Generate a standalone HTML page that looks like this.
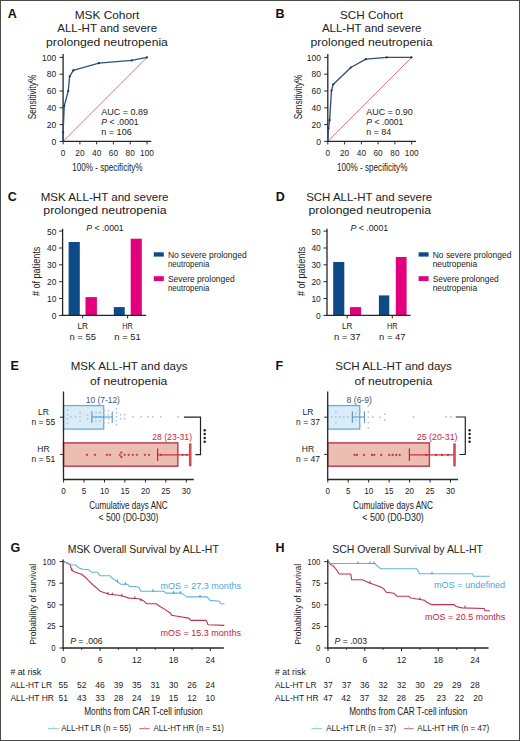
<!DOCTYPE html>
<html><head><meta charset="utf-8"><title>Figure</title>
<style>
html,body{margin:0;padding:0;background:#fff;}
body{width:520px;height:741px;overflow:hidden;}
svg{display:block;font-family:"Liberation Sans", sans-serif;}
</style></head>
<body>
<svg width="520" height="741" viewBox="0 0 520 741" fill="#222">
<rect x="0" y="0" width="520" height="741" fill="#fff"/>
<g>
<text x="7.7" y="18.1" font-size="12.5" fill="#111" font-weight="bold">A</text>
<text x="275.5" y="17.6" font-size="12.5" fill="#111" font-weight="bold">B</text>
<text x="74.7" y="18.5" font-size="11.5" textLength="64.6" lengthAdjust="spacingAndGlyphs">MSK Cohort</text>
<text x="57.2" y="32.3" font-size="11.5" textLength="99.9" lengthAdjust="spacingAndGlyphs">ALL-HT and severe</text>
<text x="46.1" y="46.0" font-size="11.5" textLength="121.8" lengthAdjust="spacingAndGlyphs">prolonged neutropenia</text>
<line x1="63.1" y1="141.4" x2="147.0" y2="57.4" stroke="#cf6676" stroke-width="0.9" />
<line x1="63.1" y1="54.0" x2="63.1" y2="142.0" stroke="#262626" stroke-width="1.3" />
<line x1="62.5" y1="141.4" x2="151.3" y2="141.4" stroke="#262626" stroke-width="1.3" />
<line x1="59.6" y1="141.4" x2="63.1" y2="141.4" stroke="#262626" stroke-width="1.0" />
<text x="56.3" y="144.6" font-size="9.5" text-anchor="end" textLength="4.8" lengthAdjust="spacingAndGlyphs">0</text>
<line x1="63.1" y1="141.4" x2="63.1" y2="144.4" stroke="#262626" stroke-width="1.0" />
<text x="63.1" y="155.8" font-size="9.5" text-anchor="middle" textLength="4.6" lengthAdjust="spacingAndGlyphs">0</text>
<line x1="59.6" y1="124.6" x2="63.1" y2="124.6" stroke="#262626" stroke-width="1.0" />
<text x="56.3" y="127.8" font-size="9.5" text-anchor="end" textLength="9.5" lengthAdjust="spacingAndGlyphs">20</text>
<line x1="79.9" y1="141.4" x2="79.9" y2="144.4" stroke="#262626" stroke-width="1.0" />
<text x="79.9" y="155.8" font-size="9.5" text-anchor="middle" textLength="9.2" lengthAdjust="spacingAndGlyphs">20</text>
<line x1="59.6" y1="107.8" x2="63.1" y2="107.8" stroke="#262626" stroke-width="1.0" />
<text x="56.3" y="111.0" font-size="9.5" text-anchor="end" textLength="9.5" lengthAdjust="spacingAndGlyphs">40</text>
<line x1="96.7" y1="141.4" x2="96.7" y2="144.4" stroke="#262626" stroke-width="1.0" />
<text x="96.7" y="155.8" font-size="9.5" text-anchor="middle" textLength="9.2" lengthAdjust="spacingAndGlyphs">40</text>
<line x1="59.6" y1="91.0" x2="63.1" y2="91.0" stroke="#262626" stroke-width="1.0" />
<text x="56.3" y="94.2" font-size="9.5" text-anchor="end" textLength="9.5" lengthAdjust="spacingAndGlyphs">60</text>
<line x1="113.4" y1="141.4" x2="113.4" y2="144.4" stroke="#262626" stroke-width="1.0" />
<text x="113.4" y="155.8" font-size="9.5" text-anchor="middle" textLength="9.2" lengthAdjust="spacingAndGlyphs">60</text>
<line x1="59.6" y1="74.2" x2="63.1" y2="74.2" stroke="#262626" stroke-width="1.0" />
<text x="56.3" y="77.4" font-size="9.5" text-anchor="end" textLength="9.5" lengthAdjust="spacingAndGlyphs">80</text>
<line x1="130.2" y1="141.4" x2="130.2" y2="144.4" stroke="#262626" stroke-width="1.0" />
<text x="130.2" y="155.8" font-size="9.5" text-anchor="middle" textLength="9.2" lengthAdjust="spacingAndGlyphs">80</text>
<line x1="59.6" y1="57.4" x2="63.1" y2="57.4" stroke="#262626" stroke-width="1.0" />
<text x="56.3" y="60.6" font-size="9.5" text-anchor="end" textLength="14.2" lengthAdjust="spacingAndGlyphs">100</text>
<line x1="147.0" y1="141.4" x2="147.0" y2="144.4" stroke="#262626" stroke-width="1.0" />
<text x="147.0" y="155.8" font-size="9.5" text-anchor="middle" textLength="13.8" lengthAdjust="spacingAndGlyphs">100</text>
<polyline points="63.1,141.2 63.1,132.5 64.2,106.1 68.2,91.1 69.7,76.3 73.3,70.4 98.9,63.2 131.7,60.4 146.9,57.4" fill="none" stroke="#2c5278" stroke-width="1.35" stroke-linejoin="round"/>
<circle cx="63.1" cy="132.5" r="1.1" fill="#1d3552"/>
<circle cx="64.2" cy="106.1" r="1.1" fill="#1d3552"/>
<circle cx="68.2" cy="91.1" r="1.1" fill="#1d3552"/>
<circle cx="69.7" cy="76.3" r="1.1" fill="#1d3552"/>
<circle cx="73.3" cy="70.4" r="1.1" fill="#1d3552"/>
<circle cx="98.9" cy="63.2" r="1.1" fill="#1d3552"/>
<circle cx="131.7" cy="60.4" r="1.1" fill="#1d3552"/>
<circle cx="146.9" cy="57.4" r="1.1" fill="#1d3552"/>
<text x="36.0" y="97.0" font-size="10.5" text-anchor="middle" textLength="44.7" lengthAdjust="spacingAndGlyphs" transform="rotate(-90 36.0 97.0)">Sensitivity%</text>
<text x="72.3" y="170.6" font-size="10.5" textLength="70.2" lengthAdjust="spacingAndGlyphs">100% - specificity%</text>
<text x="101.3" y="114.6" font-size="9" textLength="46.7" lengthAdjust="spacingAndGlyphs">AUC = 0.89</text>
<text x="101.3" y="125.0" font-size="9" textLength="37.3" lengthAdjust="spacingAndGlyphs"><tspan font-style="italic">P</tspan> &lt; .0001</text>
<text x="101.3" y="135.4" font-size="9" textLength="30.4" lengthAdjust="spacingAndGlyphs">n = 106</text>
<text x="340.0" y="18.5" font-size="11.5" textLength="63.1" lengthAdjust="spacingAndGlyphs">SCH Cohort</text>
<text x="321.9" y="32.3" font-size="11.5" textLength="99.6" lengthAdjust="spacingAndGlyphs">ALL-HT and severe</text>
<text x="310.4" y="46.0" font-size="11.5" textLength="122.1" lengthAdjust="spacingAndGlyphs">prolonged neutropenia</text>
<line x1="327.8" y1="141.4" x2="411.7" y2="57.4" stroke="#cf6676" stroke-width="0.9" />
<line x1="327.8" y1="54.0" x2="327.8" y2="142.0" stroke="#262626" stroke-width="1.3" />
<line x1="327.2" y1="141.4" x2="416.0" y2="141.4" stroke="#262626" stroke-width="1.3" />
<line x1="324.3" y1="141.4" x2="327.8" y2="141.4" stroke="#262626" stroke-width="1.0" />
<text x="321.0" y="144.6" font-size="9.5" text-anchor="end" textLength="4.8" lengthAdjust="spacingAndGlyphs">0</text>
<line x1="327.8" y1="141.4" x2="327.8" y2="144.4" stroke="#262626" stroke-width="1.0" />
<text x="327.8" y="155.8" font-size="9.5" text-anchor="middle" textLength="4.6" lengthAdjust="spacingAndGlyphs">0</text>
<line x1="324.3" y1="124.6" x2="327.8" y2="124.6" stroke="#262626" stroke-width="1.0" />
<text x="321.0" y="127.8" font-size="9.5" text-anchor="end" textLength="9.5" lengthAdjust="spacingAndGlyphs">20</text>
<line x1="344.6" y1="141.4" x2="344.6" y2="144.4" stroke="#262626" stroke-width="1.0" />
<text x="344.6" y="155.8" font-size="9.5" text-anchor="middle" textLength="9.2" lengthAdjust="spacingAndGlyphs">20</text>
<line x1="324.3" y1="107.8" x2="327.8" y2="107.8" stroke="#262626" stroke-width="1.0" />
<text x="321.0" y="111.0" font-size="9.5" text-anchor="end" textLength="9.5" lengthAdjust="spacingAndGlyphs">40</text>
<line x1="361.4" y1="141.4" x2="361.4" y2="144.4" stroke="#262626" stroke-width="1.0" />
<text x="361.4" y="155.8" font-size="9.5" text-anchor="middle" textLength="9.2" lengthAdjust="spacingAndGlyphs">40</text>
<line x1="324.3" y1="91.0" x2="327.8" y2="91.0" stroke="#262626" stroke-width="1.0" />
<text x="321.0" y="94.2" font-size="9.5" text-anchor="end" textLength="9.5" lengthAdjust="spacingAndGlyphs">60</text>
<line x1="378.1" y1="141.4" x2="378.1" y2="144.4" stroke="#262626" stroke-width="1.0" />
<text x="378.1" y="155.8" font-size="9.5" text-anchor="middle" textLength="9.2" lengthAdjust="spacingAndGlyphs">60</text>
<line x1="324.3" y1="74.2" x2="327.8" y2="74.2" stroke="#262626" stroke-width="1.0" />
<text x="321.0" y="77.4" font-size="9.5" text-anchor="end" textLength="9.5" lengthAdjust="spacingAndGlyphs">80</text>
<line x1="394.9" y1="141.4" x2="394.9" y2="144.4" stroke="#262626" stroke-width="1.0" />
<text x="394.9" y="155.8" font-size="9.5" text-anchor="middle" textLength="9.2" lengthAdjust="spacingAndGlyphs">80</text>
<line x1="324.3" y1="57.4" x2="327.8" y2="57.4" stroke="#262626" stroke-width="1.0" />
<text x="321.0" y="60.6" font-size="9.5" text-anchor="end" textLength="14.2" lengthAdjust="spacingAndGlyphs">100</text>
<line x1="411.7" y1="141.4" x2="411.7" y2="144.4" stroke="#262626" stroke-width="1.0" />
<text x="411.7" y="155.8" font-size="9.5" text-anchor="middle" textLength="13.8" lengthAdjust="spacingAndGlyphs">100</text>
<polyline points="327.8,141.1 328.5,128.3 329.6,120.2 331.5,90.5 333.2,84.4 350.8,67.5 365.9,59.2 386.6,57.4 411.5,57.4" fill="none" stroke="#2c5278" stroke-width="1.35" stroke-linejoin="round"/>
<circle cx="328.5" cy="128.3" r="1.1" fill="#1d3552"/>
<circle cx="329.6" cy="120.2" r="1.1" fill="#1d3552"/>
<circle cx="331.5" cy="90.5" r="1.1" fill="#1d3552"/>
<circle cx="333.2" cy="84.4" r="1.1" fill="#1d3552"/>
<circle cx="350.8" cy="67.5" r="1.1" fill="#1d3552"/>
<circle cx="365.9" cy="59.2" r="1.1" fill="#1d3552"/>
<circle cx="386.6" cy="57.4" r="1.1" fill="#1d3552"/>
<circle cx="411.5" cy="57.4" r="1.1" fill="#1d3552"/>
<text x="301.5" y="97.0" font-size="10.5" text-anchor="middle" textLength="44.7" lengthAdjust="spacingAndGlyphs" transform="rotate(-90 301.5 97.0)">Sensitivity%</text>
<text x="337.0" y="170.6" font-size="10.5" textLength="70.4" lengthAdjust="spacingAndGlyphs">100% - specificity%</text>
<text x="366.3" y="114.6" font-size="9" textLength="46.4" lengthAdjust="spacingAndGlyphs">AUC = 0.90</text>
<text x="366.3" y="125.0" font-size="9" textLength="37.0" lengthAdjust="spacingAndGlyphs"><tspan font-style="italic">P</tspan> &lt; .0001</text>
<text x="366.3" y="135.4" font-size="9" textLength="24.8" lengthAdjust="spacingAndGlyphs">n = 84</text>
</g>
<text x="7.8" y="200.6" font-size="12.5" fill="#111" font-weight="bold">C</text>
<text x="40.7" y="200.7" font-size="11.5" textLength="127.8" lengthAdjust="spacingAndGlyphs">MSK ALL-HT and severe</text>
<text x="43.3" y="214.2" font-size="11.5" textLength="123.2" lengthAdjust="spacingAndGlyphs">prolonged neutropenia</text>
<rect x="68.6" y="242.0" width="11.2" height="73.4" fill="#0e4a88"/>
<rect x="85.5" y="297.1" width="11.4" height="18.3" fill="#e4007c"/>
<rect x="113.8" y="307.1" width="10.9" height="8.3" fill="#0e4a88"/>
<rect x="130.7" y="238.7" width="11.1" height="76.7" fill="#e4007c"/>
<line x1="62.6" y1="228.8" x2="62.6" y2="316.0" stroke="#262626" stroke-width="1.3" />
<line x1="62.0" y1="315.4" x2="146.1" y2="315.4" stroke="#262626" stroke-width="1.3" />
<line x1="59.1" y1="315.4" x2="62.6" y2="315.4" stroke="#262626" stroke-width="1.0" />
<text x="56.4" y="318.8" font-size="9.5" text-anchor="end" textLength="4.7" lengthAdjust="spacingAndGlyphs">0</text>
<line x1="59.1" y1="298.5" x2="62.6" y2="298.5" stroke="#262626" stroke-width="1.0" />
<text x="56.4" y="301.9" font-size="9.5" text-anchor="end" textLength="9.4" lengthAdjust="spacingAndGlyphs">10</text>
<line x1="59.1" y1="281.7" x2="62.6" y2="281.7" stroke="#262626" stroke-width="1.0" />
<text x="56.4" y="285.1" font-size="9.5" text-anchor="end" textLength="9.4" lengthAdjust="spacingAndGlyphs">20</text>
<line x1="59.1" y1="264.8" x2="62.6" y2="264.8" stroke="#262626" stroke-width="1.0" />
<text x="56.4" y="268.2" font-size="9.5" text-anchor="end" textLength="9.4" lengthAdjust="spacingAndGlyphs">30</text>
<line x1="59.1" y1="248.0" x2="62.6" y2="248.0" stroke="#262626" stroke-width="1.0" />
<text x="56.4" y="251.4" font-size="9.5" text-anchor="end" textLength="9.4" lengthAdjust="spacingAndGlyphs">40</text>
<line x1="59.1" y1="231.1" x2="62.6" y2="231.1" stroke="#262626" stroke-width="1.0" />
<text x="56.4" y="234.5" font-size="9.5" text-anchor="end" textLength="9.4" lengthAdjust="spacingAndGlyphs">50</text>
<line x1="82.7" y1="315.4" x2="82.7" y2="318.4" stroke="#262626" stroke-width="1.0" />
<text x="82.7" y="329.4" font-size="8.5" text-anchor="middle" textLength="10.5" lengthAdjust="spacingAndGlyphs">LR</text>
<text x="82.7" y="340.2" font-size="8.5" text-anchor="middle" textLength="26.5" lengthAdjust="spacingAndGlyphs">n = 55</text>
<line x1="127.6" y1="315.4" x2="127.6" y2="318.4" stroke="#262626" stroke-width="1.0" />
<text x="127.6" y="329.4" font-size="8.5" text-anchor="middle" textLength="10.5" lengthAdjust="spacingAndGlyphs">HR</text>
<text x="127.6" y="340.2" font-size="8.5" text-anchor="middle" textLength="26.5" lengthAdjust="spacingAndGlyphs">n = 51</text>
<text x="86.2" y="231.0" font-size="8.5" textLength="37.5" lengthAdjust="spacingAndGlyphs"><tspan font-style="italic">P</tspan> &lt; .0001</text>
<text x="40.4" y="271.4" font-size="11" text-anchor="middle" textLength="49.3" lengthAdjust="spacingAndGlyphs" transform="rotate(-90 40.4 271.4)"># of patients</text>
<rect x="153.8" y="252.3" width="10.0" height="4.3" fill="#0e4a88"/>
<rect x="153.8" y="276.2" width="10.0" height="4.8" fill="#e4007c"/>
<text x="167.9" y="257.5" font-size="8.2" textLength="78.8" lengthAdjust="spacingAndGlyphs">No severe prolonged</text>
<text x="167.9" y="267.0" font-size="8.2" textLength="41.4" lengthAdjust="spacingAndGlyphs">neutropenia</text>
<text x="167.9" y="281.8" font-size="8.2" textLength="66.8" lengthAdjust="spacingAndGlyphs">Severe prolonged</text>
<text x="167.9" y="291.1" font-size="8.2" textLength="41.4" lengthAdjust="spacingAndGlyphs">neutropenia</text>
<text x="275.8" y="200.6" font-size="12.5" fill="#111" font-weight="bold">D</text>
<text x="306.2" y="200.7" font-size="11.5" textLength="126.0" lengthAdjust="spacingAndGlyphs">SCH ALL-HT and severe</text>
<text x="308.5" y="214.2" font-size="11.5" textLength="122.5" lengthAdjust="spacingAndGlyphs">prolonged neutropenia</text>
<rect x="333.2" y="262.0" width="11.1" height="53.4" fill="#0e4a88"/>
<rect x="350.0" y="307.1" width="11.1" height="8.3" fill="#e4007c"/>
<rect x="378.9" y="295.4" width="10.4" height="20.0" fill="#0e4a88"/>
<rect x="395.8" y="257.0" width="10.8" height="58.4" fill="#e4007c"/>
<line x1="327.0" y1="228.8" x2="327.0" y2="316.0" stroke="#262626" stroke-width="1.3" />
<line x1="326.4" y1="315.4" x2="410.5" y2="315.4" stroke="#262626" stroke-width="1.3" />
<line x1="323.5" y1="315.4" x2="327.0" y2="315.4" stroke="#262626" stroke-width="1.0" />
<text x="320.8" y="318.8" font-size="9.5" text-anchor="end" textLength="4.7" lengthAdjust="spacingAndGlyphs">0</text>
<line x1="323.5" y1="298.5" x2="327.0" y2="298.5" stroke="#262626" stroke-width="1.0" />
<text x="320.8" y="301.9" font-size="9.5" text-anchor="end" textLength="9.4" lengthAdjust="spacingAndGlyphs">10</text>
<line x1="323.5" y1="281.7" x2="327.0" y2="281.7" stroke="#262626" stroke-width="1.0" />
<text x="320.8" y="285.1" font-size="9.5" text-anchor="end" textLength="9.4" lengthAdjust="spacingAndGlyphs">20</text>
<line x1="323.5" y1="264.8" x2="327.0" y2="264.8" stroke="#262626" stroke-width="1.0" />
<text x="320.8" y="268.2" font-size="9.5" text-anchor="end" textLength="9.4" lengthAdjust="spacingAndGlyphs">30</text>
<line x1="323.5" y1="248.0" x2="327.0" y2="248.0" stroke="#262626" stroke-width="1.0" />
<text x="320.8" y="251.4" font-size="9.5" text-anchor="end" textLength="9.4" lengthAdjust="spacingAndGlyphs">40</text>
<line x1="323.5" y1="231.1" x2="327.0" y2="231.1" stroke="#262626" stroke-width="1.0" />
<text x="320.8" y="234.5" font-size="9.5" text-anchor="end" textLength="9.4" lengthAdjust="spacingAndGlyphs">50</text>
<line x1="347.2" y1="315.4" x2="347.2" y2="318.4" stroke="#262626" stroke-width="1.0" />
<text x="347.2" y="329.4" font-size="8.5" text-anchor="middle" textLength="10.5" lengthAdjust="spacingAndGlyphs">LR</text>
<text x="347.2" y="340.2" font-size="8.5" text-anchor="middle" textLength="26.5" lengthAdjust="spacingAndGlyphs">n = 37</text>
<line x1="392.3" y1="315.4" x2="392.3" y2="318.4" stroke="#262626" stroke-width="1.0" />
<text x="392.3" y="329.4" font-size="8.5" text-anchor="middle" textLength="10.5" lengthAdjust="spacingAndGlyphs">HR</text>
<text x="392.3" y="340.2" font-size="8.5" text-anchor="middle" textLength="26.5" lengthAdjust="spacingAndGlyphs">n = 47</text>
<text x="350.5" y="231.0" font-size="8.5" textLength="37.7" lengthAdjust="spacingAndGlyphs"><tspan font-style="italic">P</tspan> &lt; .0001</text>
<text x="304.6" y="271.4" font-size="11" text-anchor="middle" textLength="49.3" lengthAdjust="spacingAndGlyphs" transform="rotate(-90 304.6 271.4)"># of patients</text>
<rect x="418.6" y="252.3" width="10.0" height="4.3" fill="#0e4a88"/>
<rect x="418.6" y="276.2" width="10.0" height="4.8" fill="#e4007c"/>
<text x="432.7" y="257.5" font-size="8.2" textLength="78.7" lengthAdjust="spacingAndGlyphs">No severe prolonged</text>
<text x="432.7" y="267.0" font-size="8.2" textLength="44.4" lengthAdjust="spacingAndGlyphs">neutropenia</text>
<text x="432.7" y="281.8" font-size="8.2" textLength="66.0" lengthAdjust="spacingAndGlyphs">Severe prolonged</text>
<text x="432.7" y="291.1" font-size="8.2" textLength="44.4" lengthAdjust="spacingAndGlyphs">neutropenia</text>
<text x="10.6" y="370.4" font-size="12.5" fill="#111" font-weight="bold">E</text>
<text x="70.8" y="370.4" font-size="11.5" textLength="116.7" lengthAdjust="spacingAndGlyphs">MSK ALL-HT and days</text>
<text x="90.0" y="384.5" font-size="11.5" textLength="77.3" lengthAdjust="spacingAndGlyphs">of neutropenia</text>
<rect x="63.5" y="405.6" width="40.2" height="23.5" fill="#dbecf9" stroke="#62b0e0" stroke-width="1.3"/>
<rect x="63.5" y="442.9" width="114.3" height="23.3" fill="#ecbdb1" stroke="#bd4157" stroke-width="1.5"/>
<circle cx="67.4" cy="410.0" r="0.95" fill="#b3c8db"/>
<circle cx="67.4" cy="414.8" r="0.95" fill="#b3c8db"/>
<circle cx="67.4" cy="418.8" r="0.95" fill="#b3c8db"/>
<circle cx="67.4" cy="423.5" r="0.95" fill="#b3c8db"/>
<circle cx="70.8" cy="416.8" r="0.95" fill="#b3c8db"/>
<circle cx="75.5" cy="416.8" r="0.95" fill="#b3c8db"/>
<circle cx="80.0" cy="412.8" r="0.95" fill="#b3c8db"/>
<circle cx="80.0" cy="416.8" r="0.95" fill="#b3c8db"/>
<circle cx="80.0" cy="420.9" r="0.95" fill="#b3c8db"/>
<circle cx="87.6" cy="414.8" r="0.95" fill="#b3c8db"/>
<circle cx="87.6" cy="418.8" r="0.95" fill="#b3c8db"/>
<circle cx="96.0" cy="412.8" r="0.95" fill="#b3c8db"/>
<circle cx="96.0" cy="416.8" r="0.95" fill="#b3c8db"/>
<circle cx="96.0" cy="420.9" r="0.95" fill="#b3c8db"/>
<circle cx="100.1" cy="412.8" r="0.95" fill="#b3c8db"/>
<circle cx="100.1" cy="416.8" r="0.95" fill="#b3c8db"/>
<circle cx="100.1" cy="420.9" r="0.95" fill="#b3c8db"/>
<circle cx="104.4" cy="410.8" r="0.95" fill="#b3c8db"/>
<circle cx="104.4" cy="414.8" r="0.95" fill="#b3c8db"/>
<circle cx="104.4" cy="418.8" r="0.95" fill="#b3c8db"/>
<circle cx="104.4" cy="422.9" r="0.95" fill="#b3c8db"/>
<circle cx="108.5" cy="410.8" r="0.95" fill="#b3c8db"/>
<circle cx="108.5" cy="414.8" r="0.95" fill="#b3c8db"/>
<circle cx="108.5" cy="418.8" r="0.95" fill="#b3c8db"/>
<circle cx="108.5" cy="422.9" r="0.95" fill="#b3c8db"/>
<circle cx="116.5" cy="408.7" r="0.95" fill="#b3c8db"/>
<circle cx="116.5" cy="412.8" r="0.95" fill="#b3c8db"/>
<circle cx="116.5" cy="416.8" r="0.95" fill="#b3c8db"/>
<circle cx="116.5" cy="420.9" r="0.95" fill="#b3c8db"/>
<circle cx="116.5" cy="424.9" r="0.95" fill="#b3c8db"/>
<circle cx="120.6" cy="414.8" r="0.95" fill="#b3c8db"/>
<circle cx="120.6" cy="418.8" r="0.95" fill="#b3c8db"/>
<circle cx="124.6" cy="414.8" r="0.95" fill="#b3c8db"/>
<circle cx="124.6" cy="418.8" r="0.95" fill="#b3c8db"/>
<circle cx="133.0" cy="416.8" r="0.95" fill="#b3c8db"/>
<circle cx="141.2" cy="416.8" r="0.95" fill="#b3c8db"/>
<circle cx="148.1" cy="416.8" r="0.95" fill="#b3c8db"/>
<circle cx="152.7" cy="416.8" r="0.95" fill="#b3c8db"/>
<circle cx="160.8" cy="416.8" r="0.95" fill="#b3c8db"/>
<circle cx="178.1" cy="416.8" r="0.95" fill="#b3c8db"/>
<circle cx="87.0" cy="454.8" r="1.15" fill="#b84252"/>
<circle cx="95.0" cy="454.8" r="1.15" fill="#b84252"/>
<circle cx="107.0" cy="454.8" r="1.15" fill="#b84252"/>
<circle cx="110.0" cy="454.8" r="1.15" fill="#b84252"/>
<circle cx="119.8" cy="454.8" r="1.15" fill="#b84252"/>
<circle cx="124.7" cy="454.8" r="1.15" fill="#b84252"/>
<circle cx="128.7" cy="454.8" r="1.15" fill="#b84252"/>
<circle cx="132.8" cy="454.8" r="1.15" fill="#b84252"/>
<circle cx="136.8" cy="454.8" r="1.15" fill="#b84252"/>
<circle cx="144.9" cy="454.8" r="1.15" fill="#b84252"/>
<circle cx="149.0" cy="454.8" r="1.15" fill="#b84252"/>
<circle cx="161.0" cy="454.8" r="1.15" fill="#b84252"/>
<circle cx="182.6" cy="454.8" r="1.15" fill="#b84252"/>
<circle cx="186.7" cy="454.8" r="1.15" fill="#b84252"/>
<circle cx="121.3" cy="452.6" r="1.15" fill="#b84252"/>
<circle cx="121.3" cy="457.0" r="1.15" fill="#b84252"/>
<line x1="91.9" y1="417.0" x2="112.2" y2="417.0" stroke="#3f9ad8" stroke-width="1.0" />
<line x1="91.9" y1="411.4" x2="91.9" y2="422.9" stroke="#4a88bc" stroke-width="1.0" />
<line x1="112.2" y1="411.4" x2="112.2" y2="422.9" stroke="#4a88bc" stroke-width="1.0" />
<line x1="157.6" y1="454.8" x2="190.2" y2="454.8" stroke="#d02f3c" stroke-width="1.3" />
<line x1="157.6" y1="448.5" x2="157.6" y2="460.9" stroke="#b8283a" stroke-width="1.2" />
<line x1="190.2" y1="443.3" x2="190.2" y2="466.3" stroke="#d04a52" stroke-width="2.6" />
<line x1="63.5" y1="391.5" x2="63.5" y2="480.1" stroke="#262626" stroke-width="1.3" />
<line x1="62.9" y1="479.5" x2="193.8" y2="479.5" stroke="#262626" stroke-width="1.3" />
<line x1="60.0" y1="417.2" x2="63.5" y2="417.2" stroke="#262626" stroke-width="1.0" />
<line x1="60.0" y1="454.4" x2="63.5" y2="454.4" stroke="#262626" stroke-width="1.0" />
<line x1="63.6" y1="479.5" x2="63.6" y2="482.5" stroke="#262626" stroke-width="1.0" />
<text x="63.6" y="493.6" font-size="9.2" text-anchor="middle" textLength="4.5" lengthAdjust="spacingAndGlyphs">0</text>
<line x1="84.0" y1="479.5" x2="84.0" y2="482.5" stroke="#262626" stroke-width="1.0" />
<text x="84.0" y="493.6" font-size="9.2" text-anchor="middle" textLength="4.5" lengthAdjust="spacingAndGlyphs">5</text>
<line x1="104.5" y1="479.5" x2="104.5" y2="482.5" stroke="#262626" stroke-width="1.0" />
<text x="104.5" y="493.6" font-size="9.2" text-anchor="middle" textLength="9.0" lengthAdjust="spacingAndGlyphs">10</text>
<line x1="124.9" y1="479.5" x2="124.9" y2="482.5" stroke="#262626" stroke-width="1.0" />
<text x="124.9" y="493.6" font-size="9.2" text-anchor="middle" textLength="9.0" lengthAdjust="spacingAndGlyphs">15</text>
<line x1="145.4" y1="479.5" x2="145.4" y2="482.5" stroke="#262626" stroke-width="1.0" />
<text x="145.4" y="493.6" font-size="9.2" text-anchor="middle" textLength="9.0" lengthAdjust="spacingAndGlyphs">20</text>
<line x1="165.8" y1="479.5" x2="165.8" y2="482.5" stroke="#262626" stroke-width="1.0" />
<text x="165.8" y="493.6" font-size="9.2" text-anchor="middle" textLength="9.0" lengthAdjust="spacingAndGlyphs">25</text>
<line x1="186.3" y1="479.5" x2="186.3" y2="482.5" stroke="#262626" stroke-width="1.0" />
<text x="186.3" y="493.6" font-size="9.2" text-anchor="middle" textLength="9.0" lengthAdjust="spacingAndGlyphs">30</text>
<text x="43.4" y="414.5" font-size="8.5" text-anchor="middle">LR</text>
<text x="43.4" y="425.3" font-size="8.5" text-anchor="middle">n = 55</text>
<text x="43.4" y="452.0" font-size="8.5" text-anchor="middle">HR</text>
<text x="43.4" y="462.2" font-size="8.5" text-anchor="middle">n = 51</text>
<text x="85.8" y="403.0" font-size="8.5" textLength="34.1" lengthAdjust="spacingAndGlyphs" fill="#3b5878">10 (7-12)</text>
<text x="152.3" y="439.7" font-size="8.5" textLength="39.7" lengthAdjust="spacingAndGlyphs" fill="#c8283a">28 (23-31)</text>
<polyline points="183.9,417.2 200.5,417.2 200.5,454.7 195.4,454.7" fill="none" stroke="#222" stroke-width="1.2" />
<circle cx="204.7" cy="430.3" r="1.25" fill="#222"/>
<circle cx="204.7" cy="434.1" r="1.25" fill="#222"/>
<circle cx="204.7" cy="437.9" r="1.25" fill="#222"/>
<circle cx="204.7" cy="441.7" r="1.25" fill="#222"/>
<text x="89.2" y="509.0" font-size="10.5" textLength="78.5" lengthAdjust="spacingAndGlyphs">Cumulative days ANC</text>
<text x="98.5" y="521.0" font-size="10.5" textLength="60.0" lengthAdjust="spacingAndGlyphs">&lt; 500 (D0-D30)</text>
<text x="275.6" y="370.4" font-size="12.5" fill="#111" font-weight="bold">F</text>
<text x="335.2" y="370.4" font-size="11.5" textLength="116.7" lengthAdjust="spacingAndGlyphs">SCH ALL-HT and days</text>
<text x="354.4" y="384.5" font-size="11.5" textLength="77.9" lengthAdjust="spacingAndGlyphs">of neutropenia</text>
<rect x="327.7" y="405.6" width="32.0" height="23.5" fill="#dbecf9" stroke="#62b0e0" stroke-width="1.3"/>
<rect x="327.7" y="442.9" width="101.7" height="23.3" fill="#ecbdb1" stroke="#bd4157" stroke-width="1.5"/>
<circle cx="331.7" cy="417.0" r="0.95" fill="#b3c8db"/>
<circle cx="335.8" cy="417.0" r="0.95" fill="#b3c8db"/>
<circle cx="339.8" cy="417.0" r="0.95" fill="#b3c8db"/>
<circle cx="343.8" cy="417.0" r="0.95" fill="#b3c8db"/>
<circle cx="347.9" cy="417.0" r="0.95" fill="#b3c8db"/>
<circle cx="335.8" cy="411.8" r="0.95" fill="#b3c8db"/>
<circle cx="335.8" cy="422.6" r="0.95" fill="#b3c8db"/>
<circle cx="356.0" cy="413.5" r="0.95" fill="#b3c8db"/>
<circle cx="356.0" cy="419.9" r="0.95" fill="#b3c8db"/>
<circle cx="360.3" cy="411.4" r="0.95" fill="#b3c8db"/>
<circle cx="360.3" cy="417.2" r="0.95" fill="#b3c8db"/>
<circle cx="360.3" cy="425.5" r="0.95" fill="#b3c8db"/>
<circle cx="368.3" cy="406.0" r="0.95" fill="#b3c8db"/>
<circle cx="368.3" cy="411.8" r="0.95" fill="#b3c8db"/>
<circle cx="368.3" cy="417.2" r="0.95" fill="#b3c8db"/>
<circle cx="368.3" cy="422.6" r="0.95" fill="#b3c8db"/>
<circle cx="368.3" cy="428.0" r="0.95" fill="#b3c8db"/>
<circle cx="372.8" cy="417.2" r="0.95" fill="#b3c8db"/>
<circle cx="380.2" cy="417.2" r="0.95" fill="#b3c8db"/>
<circle cx="384.9" cy="414.1" r="0.95" fill="#b3c8db"/>
<circle cx="384.9" cy="420.2" r="0.95" fill="#b3c8db"/>
<circle cx="413.5" cy="417.0" r="0.95" fill="#b3c8db"/>
<circle cx="446.2" cy="417.0" r="0.95" fill="#b3c8db"/>
<circle cx="450.9" cy="417.0" r="0.95" fill="#b3c8db"/>
<circle cx="354.6" cy="455.0" r="1.15" fill="#b84252"/>
<circle cx="357.0" cy="455.0" r="1.15" fill="#b84252"/>
<circle cx="363.9" cy="455.0" r="1.15" fill="#b84252"/>
<circle cx="372.0" cy="455.0" r="1.15" fill="#b84252"/>
<circle cx="374.3" cy="455.0" r="1.15" fill="#b84252"/>
<circle cx="381.2" cy="455.0" r="1.15" fill="#b84252"/>
<circle cx="389.3" cy="455.0" r="1.15" fill="#b84252"/>
<circle cx="392.7" cy="455.0" r="1.15" fill="#b84252"/>
<circle cx="396.2" cy="455.0" r="1.15" fill="#b84252"/>
<circle cx="399.7" cy="455.0" r="1.15" fill="#b84252"/>
<circle cx="426.2" cy="455.0" r="1.15" fill="#b84252"/>
<circle cx="436.0" cy="455.0" r="1.15" fill="#b84252"/>
<circle cx="442.0" cy="455.0" r="1.15" fill="#b84252"/>
<circle cx="448.0" cy="455.0" r="1.15" fill="#b84252"/>
<line x1="352.3" y1="417.0" x2="364.4" y2="417.0" stroke="#3f9ad8" stroke-width="1.0" />
<line x1="352.3" y1="411.4" x2="352.3" y2="422.9" stroke="#4a88bc" stroke-width="1.0" />
<line x1="364.4" y1="411.4" x2="364.4" y2="422.9" stroke="#4a88bc" stroke-width="1.0" />
<line x1="409.4" y1="454.8" x2="454.5" y2="454.8" stroke="#d02f3c" stroke-width="1.3" />
<line x1="409.4" y1="448.5" x2="409.4" y2="460.9" stroke="#b8283a" stroke-width="1.2" />
<line x1="454.5" y1="443.3" x2="454.5" y2="466.3" stroke="#d04a52" stroke-width="2.6" />
<line x1="327.7" y1="391.5" x2="327.7" y2="480.1" stroke="#262626" stroke-width="1.3" />
<line x1="327.1" y1="479.5" x2="458.0" y2="479.5" stroke="#262626" stroke-width="1.3" />
<line x1="324.2" y1="417.2" x2="327.7" y2="417.2" stroke="#262626" stroke-width="1.0" />
<line x1="324.2" y1="454.4" x2="327.7" y2="454.4" stroke="#262626" stroke-width="1.0" />
<line x1="327.8" y1="479.5" x2="327.8" y2="482.5" stroke="#262626" stroke-width="1.0" />
<text x="327.8" y="493.6" font-size="9.2" text-anchor="middle" textLength="4.5" lengthAdjust="spacingAndGlyphs">0</text>
<line x1="348.2" y1="479.5" x2="348.2" y2="482.5" stroke="#262626" stroke-width="1.0" />
<text x="348.2" y="493.6" font-size="9.2" text-anchor="middle" textLength="4.5" lengthAdjust="spacingAndGlyphs">5</text>
<line x1="368.7" y1="479.5" x2="368.7" y2="482.5" stroke="#262626" stroke-width="1.0" />
<text x="368.7" y="493.6" font-size="9.2" text-anchor="middle" textLength="9.0" lengthAdjust="spacingAndGlyphs">10</text>
<line x1="389.1" y1="479.5" x2="389.1" y2="482.5" stroke="#262626" stroke-width="1.0" />
<text x="389.1" y="493.6" font-size="9.2" text-anchor="middle" textLength="9.0" lengthAdjust="spacingAndGlyphs">15</text>
<line x1="409.6" y1="479.5" x2="409.6" y2="482.5" stroke="#262626" stroke-width="1.0" />
<text x="409.6" y="493.6" font-size="9.2" text-anchor="middle" textLength="9.0" lengthAdjust="spacingAndGlyphs">20</text>
<line x1="430.1" y1="479.5" x2="430.1" y2="482.5" stroke="#262626" stroke-width="1.0" />
<text x="430.1" y="493.6" font-size="9.2" text-anchor="middle" textLength="9.0" lengthAdjust="spacingAndGlyphs">25</text>
<line x1="450.5" y1="479.5" x2="450.5" y2="482.5" stroke="#262626" stroke-width="1.0" />
<text x="450.5" y="493.6" font-size="9.2" text-anchor="middle" textLength="9.0" lengthAdjust="spacingAndGlyphs">30</text>
<text x="308.0" y="414.5" font-size="8.5" text-anchor="middle">LR</text>
<text x="308.0" y="425.3" font-size="8.5" text-anchor="middle">n = 37</text>
<text x="308.0" y="452.0" font-size="8.5" text-anchor="middle">HR</text>
<text x="308.0" y="462.2" font-size="8.5" text-anchor="middle">n = 47</text>
<text x="346.6" y="403.0" font-size="8.5" textLength="25.4" lengthAdjust="spacingAndGlyphs" fill="#3b5878">8 (6-9)</text>
<text x="416.8" y="439.7" font-size="8.5" textLength="40.7" lengthAdjust="spacingAndGlyphs" fill="#c8283a">25 (20-31)</text>
<polyline points="455.7,417.0 465.3,417.0 465.3,454.5 459.4,454.5" fill="none" stroke="#222" stroke-width="1.2" />
<circle cx="469.6" cy="430.3" r="1.25" fill="#222"/>
<circle cx="469.6" cy="434.1" r="1.25" fill="#222"/>
<circle cx="469.6" cy="437.9" r="1.25" fill="#222"/>
<circle cx="469.6" cy="441.7" r="1.25" fill="#222"/>
<text x="353.0" y="509.0" font-size="10.5" textLength="80.0" lengthAdjust="spacingAndGlyphs">Cumulative days ANC</text>
<text x="362.3" y="521.0" font-size="10.5" textLength="61.5" lengthAdjust="spacingAndGlyphs">&lt; 500 (D0-D30)</text>
<text x="10.4" y="551.6" font-size="12.5" fill="#111" font-weight="bold">G</text>
<text x="67.7" y="552.8" font-size="10.2" textLength="151.1" lengthAdjust="spacingAndGlyphs">MSK Overall Survival by ALL-HT</text>
<polyline points="63.5,561.6 70.0,564.2 71.5,569.6 73.1,571.2 76.9,572.7 81.5,574.2 85.4,577.3 89.2,581.2 93.1,585.0 97.7,588.8 100.0,591.2 104.6,592.7 109.2,594.2 118.5,595.3 123.1,596.2 129.2,598.1 135.0,598.5 138.8,598.8 143.7,600.8 146.5,603.7 156.2,603.7 160.0,606.5 164.8,609.4 170.6,613.3 171.5,615.2 177.3,616.2 188.8,618.1 190.8,620.4 206.2,620.4 208.1,624.8 224.4,625.4" fill="none" stroke="#c42e4e" stroke-width="1.1" stroke-linejoin="round"/>
<polyline points="63.5,561.6 70.8,565.0 75.4,565.0 79.2,568.1 83.1,569.2 88.5,569.6 91.5,572.2 97.7,572.2 100.0,575.8 110.0,575.8 113.1,578.8 117.7,581.9 120.8,584.2 127.7,584.2 129.2,586.5 135.4,586.5 138.8,587.3 140.8,591.2 163.8,591.2 165.8,593.1 181.2,593.1 186.9,596.9 207.1,596.9 210.0,600.4 219.6,601.2 220.6,603.7 224.4,603.7" fill="none" stroke="#62b4de" stroke-width="1.1" stroke-linejoin="round"/>
<line x1="117.5" y1="579.9" x2="117.5" y2="582.4" stroke="#3a7ea8" stroke-width="0.9" />
<line x1="125.3" y1="582.2" x2="125.3" y2="584.7" stroke="#3a7ea8" stroke-width="0.9" />
<line x1="153.0" y1="589.2" x2="153.0" y2="591.7" stroke="#3a7ea8" stroke-width="0.9" />
<line x1="173.7" y1="591.1" x2="173.7" y2="593.6" stroke="#3a7ea8" stroke-width="0.9" />
<line x1="180.6" y1="591.1" x2="180.6" y2="593.6" stroke="#3a7ea8" stroke-width="0.9" />
<line x1="200.0" y1="594.9" x2="200.0" y2="597.4" stroke="#3a7ea8" stroke-width="0.9" />
<line x1="108.0" y1="592.0" x2="108.0" y2="594.5" stroke="#8a1f3a" stroke-width="0.9" />
<line x1="112.3" y1="592.6" x2="112.3" y2="595.1" stroke="#8a1f3a" stroke-width="0.9" />
<line x1="121.8" y1="593.8" x2="121.8" y2="596.3" stroke="#8a1f3a" stroke-width="0.9" />
<line x1="134.8" y1="596.4" x2="134.8" y2="598.9" stroke="#8a1f3a" stroke-width="0.9" />
<line x1="140.8" y1="598.6" x2="140.8" y2="601.1" stroke="#8a1f3a" stroke-width="0.9" />
<line x1="72.0" y1="568.5" x2="72.0" y2="571.0" stroke="#8a1f3a" stroke-width="0.9" />
<line x1="63.1" y1="559.5" x2="63.1" y2="648.6" stroke="#262626" stroke-width="1.3" />
<line x1="62.5" y1="648.0" x2="223.8" y2="648.0" stroke="#262626" stroke-width="1.3" />
<line x1="59.6" y1="648.0" x2="63.1" y2="648.0" stroke="#262626" stroke-width="1.0" />
<text x="55.6" y="651.0" font-size="9" text-anchor="end" textLength="4.3" lengthAdjust="spacingAndGlyphs">0</text>
<line x1="59.6" y1="626.4" x2="63.1" y2="626.4" stroke="#262626" stroke-width="1.0" />
<text x="55.6" y="629.4" font-size="9" text-anchor="end" textLength="8.7" lengthAdjust="spacingAndGlyphs">25</text>
<line x1="59.6" y1="604.8" x2="63.1" y2="604.8" stroke="#262626" stroke-width="1.0" />
<text x="55.6" y="607.8" font-size="9" text-anchor="end" textLength="8.7" lengthAdjust="spacingAndGlyphs">50</text>
<line x1="59.6" y1="583.2" x2="63.1" y2="583.2" stroke="#262626" stroke-width="1.0" />
<text x="55.6" y="586.2" font-size="9" text-anchor="end" textLength="8.7" lengthAdjust="spacingAndGlyphs">75</text>
<line x1="59.6" y1="561.6" x2="63.1" y2="561.6" stroke="#262626" stroke-width="1.0" />
<text x="55.6" y="564.6" font-size="9" text-anchor="end" textLength="13.0" lengthAdjust="spacingAndGlyphs">100</text>
<line x1="63.3" y1="648.0" x2="63.3" y2="651.0" stroke="#262626" stroke-width="1.0" />
<text x="63.3" y="662.5" font-size="9.5" text-anchor="middle" textLength="4.8" lengthAdjust="spacingAndGlyphs">0</text>
<line x1="81.7" y1="648.0" x2="81.7" y2="649.8" stroke="#262626" stroke-width="1.0" />
<line x1="100.1" y1="648.0" x2="100.1" y2="651.0" stroke="#262626" stroke-width="1.0" />
<text x="100.1" y="662.5" font-size="9.5" text-anchor="middle" textLength="4.8" lengthAdjust="spacingAndGlyphs">6</text>
<line x1="118.4" y1="648.0" x2="118.4" y2="649.8" stroke="#262626" stroke-width="1.0" />
<line x1="136.8" y1="648.0" x2="136.8" y2="651.0" stroke="#262626" stroke-width="1.0" />
<text x="136.8" y="662.5" font-size="9.5" text-anchor="middle" textLength="9.6" lengthAdjust="spacingAndGlyphs">12</text>
<line x1="155.2" y1="648.0" x2="155.2" y2="649.8" stroke="#262626" stroke-width="1.0" />
<line x1="173.6" y1="648.0" x2="173.6" y2="651.0" stroke="#262626" stroke-width="1.0" />
<text x="173.6" y="662.5" font-size="9.5" text-anchor="middle" textLength="9.6" lengthAdjust="spacingAndGlyphs">18</text>
<line x1="192.0" y1="648.0" x2="192.0" y2="649.8" stroke="#262626" stroke-width="1.0" />
<line x1="210.3" y1="648.0" x2="210.3" y2="651.0" stroke="#262626" stroke-width="1.0" />
<text x="210.3" y="662.5" font-size="9.5" text-anchor="middle" textLength="9.6" lengthAdjust="spacingAndGlyphs">24</text>
<text x="160.6" y="588.6" font-size="8.8" textLength="80.3" lengthAdjust="spacingAndGlyphs" fill="#4aa8da">mOS = 27.3 months</text>
<text x="160.6" y="635.5" font-size="8.8" textLength="80.3" lengthAdjust="spacingAndGlyphs" fill="#c8203a">mOS = 15.3 months</text>
<text x="70.2" y="643.7" font-size="8.5" textLength="32.4" lengthAdjust="spacingAndGlyphs"><tspan font-style="italic">P</tspan> = .006</text>
<text x="35.8" y="604.3" font-size="9.5" text-anchor="middle" textLength="81.0" lengthAdjust="spacingAndGlyphs" transform="rotate(-90 35.8 604.3)">Probability of survival</text>
<text x="10.4" y="675.0" font-size="8.5" textLength="30.8" lengthAdjust="spacingAndGlyphs"># at risk</text>
<text x="10.4" y="688.0" font-size="8.5" textLength="41.5" lengthAdjust="spacingAndGlyphs">ALL-HT LR</text>
<text x="10.4" y="700.6" font-size="8.5" textLength="43.5" lengthAdjust="spacingAndGlyphs">ALL-HT HR</text>
<text x="63.3" y="688.0" font-size="8.5" text-anchor="middle">55</text>
<text x="81.7" y="688.0" font-size="8.5" text-anchor="middle">52</text>
<text x="100.1" y="688.0" font-size="8.5" text-anchor="middle">46</text>
<text x="118.4" y="688.0" font-size="8.5" text-anchor="middle">39</text>
<text x="136.8" y="688.0" font-size="8.5" text-anchor="middle">35</text>
<text x="155.2" y="688.0" font-size="8.5" text-anchor="middle">31</text>
<text x="173.6" y="688.0" font-size="8.5" text-anchor="middle">30</text>
<text x="192.0" y="688.0" font-size="8.5" text-anchor="middle">26</text>
<text x="210.3" y="688.0" font-size="8.5" text-anchor="middle">24</text>
<text x="63.3" y="700.6" font-size="8.5" text-anchor="middle">51</text>
<text x="81.7" y="700.6" font-size="8.5" text-anchor="middle">43</text>
<text x="100.1" y="700.6" font-size="8.5" text-anchor="middle">33</text>
<text x="118.4" y="700.6" font-size="8.5" text-anchor="middle">28</text>
<text x="136.8" y="700.6" font-size="8.5" text-anchor="middle">24</text>
<text x="155.2" y="700.6" font-size="8.5" text-anchor="middle">19</text>
<text x="173.6" y="700.6" font-size="8.5" text-anchor="middle">15</text>
<text x="192.0" y="700.6" font-size="8.5" text-anchor="middle">12</text>
<text x="210.3" y="700.6" font-size="8.5" text-anchor="middle">10</text>
<text x="84.2" y="714.6" font-size="10.5" textLength="118.5" lengthAdjust="spacingAndGlyphs">Months from CAR T-cell infusion</text>
<line x1="48.1" y1="728.7" x2="58.9" y2="728.7" stroke="#8cc6e6" stroke-width="1.0" />
<line x1="139.3" y1="728.7" x2="149.6" y2="728.7" stroke="#c0607a" stroke-width="1.0" />
<line x1="53.5" y1="726.6" x2="53.5" y2="728.7" stroke="#a8d4ec" stroke-width="0.8" />
<line x1="144.4" y1="726.6" x2="144.4" y2="728.7" stroke="#e0a0b0" stroke-width="0.8" />
<text x="61.2" y="731.4" font-size="8.5" textLength="70.0" lengthAdjust="spacingAndGlyphs">ALL-HT LR (n = 55)</text>
<text x="153.5" y="731.4" font-size="8.5" textLength="70.3" lengthAdjust="spacingAndGlyphs">ALL-HT HR (n = 51)</text>
<text x="275.4" y="551.6" font-size="12.5" fill="#111" font-weight="bold">H</text>
<text x="332.2" y="552.8" font-size="10.2" textLength="150.8" lengthAdjust="spacingAndGlyphs">SCH Overall Survival by ALL-HT</text>
<polyline points="328.5,561.6 330.6,564.4 333.5,566.3 335.4,568.3 339.2,574.0 350.8,574.0 351.7,579.8 362.3,579.8 369.0,582.7 373.8,584.6 379.6,586.5 383.5,588.5 386.3,592.3 394.0,593.3 396.9,596.2 408.5,596.2 410.0,597.7 415.8,598.8 424.4,600.2 426.3,602.1 431.2,604.6 454.2,604.6 456.2,606.5 461.9,607.9 484.0,608.5 485.0,610.8 489.8,610.8" fill="none" stroke="#c42e4e" stroke-width="1.1" stroke-linejoin="round"/>
<polyline points="328.5,561.6 330.6,563.5 374.8,563.5 377.7,566.3 380.6,568.7 416.7,568.7 419.6,573.7 472.5,573.7 473.5,576.2 489.8,576.2" fill="none" stroke="#62b4de" stroke-width="1.1" stroke-linejoin="round"/>
<line x1="358.0" y1="561.5" x2="358.0" y2="564.0" stroke="#3a7ea8" stroke-width="0.9" />
<line x1="370.0" y1="561.5" x2="370.0" y2="564.0" stroke="#3a7ea8" stroke-width="0.9" />
<line x1="374.0" y1="561.5" x2="374.0" y2="564.0" stroke="#3a7ea8" stroke-width="0.9" />
<line x1="432.0" y1="571.7" x2="432.0" y2="574.2" stroke="#3a7ea8" stroke-width="0.9" />
<line x1="370.0" y1="580.9" x2="370.0" y2="583.4" stroke="#8a1f3a" stroke-width="0.9" />
<line x1="420.0" y1="597.4" x2="420.0" y2="599.9" stroke="#8a1f3a" stroke-width="0.9" />
<line x1="465.0" y1="605.6" x2="465.0" y2="608.1" stroke="#8a1f3a" stroke-width="0.9" />
<line x1="327.8" y1="559.5" x2="327.8" y2="648.6" stroke="#262626" stroke-width="1.3" />
<line x1="327.2" y1="648.0" x2="488.5" y2="648.0" stroke="#262626" stroke-width="1.3" />
<line x1="324.3" y1="648.0" x2="327.8" y2="648.0" stroke="#262626" stroke-width="1.0" />
<text x="320.3" y="651.0" font-size="9" text-anchor="end" textLength="4.3" lengthAdjust="spacingAndGlyphs">0</text>
<line x1="324.3" y1="626.4" x2="327.8" y2="626.4" stroke="#262626" stroke-width="1.0" />
<text x="320.3" y="629.4" font-size="9" text-anchor="end" textLength="8.7" lengthAdjust="spacingAndGlyphs">25</text>
<line x1="324.3" y1="604.8" x2="327.8" y2="604.8" stroke="#262626" stroke-width="1.0" />
<text x="320.3" y="607.8" font-size="9" text-anchor="end" textLength="8.7" lengthAdjust="spacingAndGlyphs">50</text>
<line x1="324.3" y1="583.2" x2="327.8" y2="583.2" stroke="#262626" stroke-width="1.0" />
<text x="320.3" y="586.2" font-size="9" text-anchor="end" textLength="8.7" lengthAdjust="spacingAndGlyphs">75</text>
<line x1="324.3" y1="561.6" x2="327.8" y2="561.6" stroke="#262626" stroke-width="1.0" />
<text x="320.3" y="564.6" font-size="9" text-anchor="end" textLength="13.0" lengthAdjust="spacingAndGlyphs">100</text>
<line x1="328.0" y1="648.0" x2="328.0" y2="651.0" stroke="#262626" stroke-width="1.0" />
<text x="328.0" y="662.5" font-size="9.5" text-anchor="middle" textLength="4.8" lengthAdjust="spacingAndGlyphs">0</text>
<line x1="346.4" y1="648.0" x2="346.4" y2="649.8" stroke="#262626" stroke-width="1.0" />
<line x1="364.8" y1="648.0" x2="364.8" y2="651.0" stroke="#262626" stroke-width="1.0" />
<text x="364.8" y="662.5" font-size="9.5" text-anchor="middle" textLength="4.8" lengthAdjust="spacingAndGlyphs">6</text>
<line x1="383.1" y1="648.0" x2="383.1" y2="649.8" stroke="#262626" stroke-width="1.0" />
<line x1="401.5" y1="648.0" x2="401.5" y2="651.0" stroke="#262626" stroke-width="1.0" />
<text x="401.5" y="662.5" font-size="9.5" text-anchor="middle" textLength="9.6" lengthAdjust="spacingAndGlyphs">12</text>
<line x1="419.9" y1="648.0" x2="419.9" y2="649.8" stroke="#262626" stroke-width="1.0" />
<line x1="438.3" y1="648.0" x2="438.3" y2="651.0" stroke="#262626" stroke-width="1.0" />
<text x="438.3" y="662.5" font-size="9.5" text-anchor="middle" textLength="9.6" lengthAdjust="spacingAndGlyphs">18</text>
<line x1="456.7" y1="648.0" x2="456.7" y2="649.8" stroke="#262626" stroke-width="1.0" />
<line x1="475.0" y1="648.0" x2="475.0" y2="651.0" stroke="#262626" stroke-width="1.0" />
<text x="475.0" y="662.5" font-size="9.5" text-anchor="middle" textLength="9.6" lengthAdjust="spacingAndGlyphs">24</text>
<text x="434.0" y="588.1" font-size="8.8" textLength="71.2" lengthAdjust="spacingAndGlyphs" fill="#4aa8da">mOS = undefined</text>
<text x="425.0" y="620.0" font-size="8.8" textLength="80.2" lengthAdjust="spacingAndGlyphs" fill="#c8203a">mOS = 20.5 months</text>
<text x="334.6" y="643.7" font-size="8.5" textLength="32.4" lengthAdjust="spacingAndGlyphs"><tspan font-style="italic">P</tspan> = .003</text>
<text x="301.0" y="604.3" font-size="9.5" text-anchor="middle" textLength="81.0" lengthAdjust="spacingAndGlyphs" transform="rotate(-90 301.0 604.3)">Probability of survival</text>
<text x="275.0" y="675.0" font-size="8.5" textLength="30.8" lengthAdjust="spacingAndGlyphs"># at risk</text>
<text x="275.0" y="688.0" font-size="8.5" textLength="41.5" lengthAdjust="spacingAndGlyphs">ALL-HT LR</text>
<text x="275.0" y="700.6" font-size="8.5" textLength="43.5" lengthAdjust="spacingAndGlyphs">ALL-HT HR</text>
<text x="328.0" y="688.0" font-size="8.5" text-anchor="middle">37</text>
<text x="346.4" y="688.0" font-size="8.5" text-anchor="middle">37</text>
<text x="364.8" y="688.0" font-size="8.5" text-anchor="middle">36</text>
<text x="383.1" y="688.0" font-size="8.5" text-anchor="middle">32</text>
<text x="401.5" y="688.0" font-size="8.5" text-anchor="middle">32</text>
<text x="419.9" y="688.0" font-size="8.5" text-anchor="middle">30</text>
<text x="438.3" y="688.0" font-size="8.5" text-anchor="middle">29</text>
<text x="456.7" y="688.0" font-size="8.5" text-anchor="middle">29</text>
<text x="475.0" y="688.0" font-size="8.5" text-anchor="middle">28</text>
<text x="327.9" y="700.6" font-size="8.5" text-anchor="middle">47</text>
<text x="346.0" y="700.6" font-size="8.5" text-anchor="middle">42</text>
<text x="364.4" y="700.6" font-size="8.5" text-anchor="middle">37</text>
<text x="383.1" y="700.6" font-size="8.5" text-anchor="middle">32</text>
<text x="401.3" y="700.6" font-size="8.5" text-anchor="middle">28</text>
<text x="419.8" y="700.6" font-size="8.5" text-anchor="middle">25</text>
<text x="441.3" y="700.6" font-size="8.5" text-anchor="middle">23</text>
<text x="459.6" y="700.6" font-size="8.5" text-anchor="middle">22</text>
<text x="477.9" y="700.6" font-size="8.5" text-anchor="middle">20</text>
<text x="349.2" y="714.6" font-size="10.5" textLength="118.1" lengthAdjust="spacingAndGlyphs">Months from CAR T-cell infusion</text>
<line x1="311.5" y1="728.7" x2="322.3" y2="728.7" stroke="#8cc6e6" stroke-width="1.0" />
<line x1="403.8" y1="728.7" x2="413.5" y2="728.7" stroke="#c0607a" stroke-width="1.0" />
<line x1="316.9" y1="726.6" x2="316.9" y2="728.7" stroke="#a8d4ec" stroke-width="0.8" />
<line x1="408.6" y1="726.6" x2="408.6" y2="728.7" stroke="#e0a0b0" stroke-width="0.8" />
<text x="326.2" y="731.4" font-size="8.5" textLength="70.0" lengthAdjust="spacingAndGlyphs">ALL-HT LR (n = 37)</text>
<text x="417.3" y="731.4" font-size="8.5" textLength="71.9" lengthAdjust="spacingAndGlyphs">ALL-HT HR (n = 47)</text>
<rect x="0.5" y="0.5" width="519" height="740" fill="none" stroke="#4a4a4a" stroke-width="1"/>
</svg>
</body></html>
